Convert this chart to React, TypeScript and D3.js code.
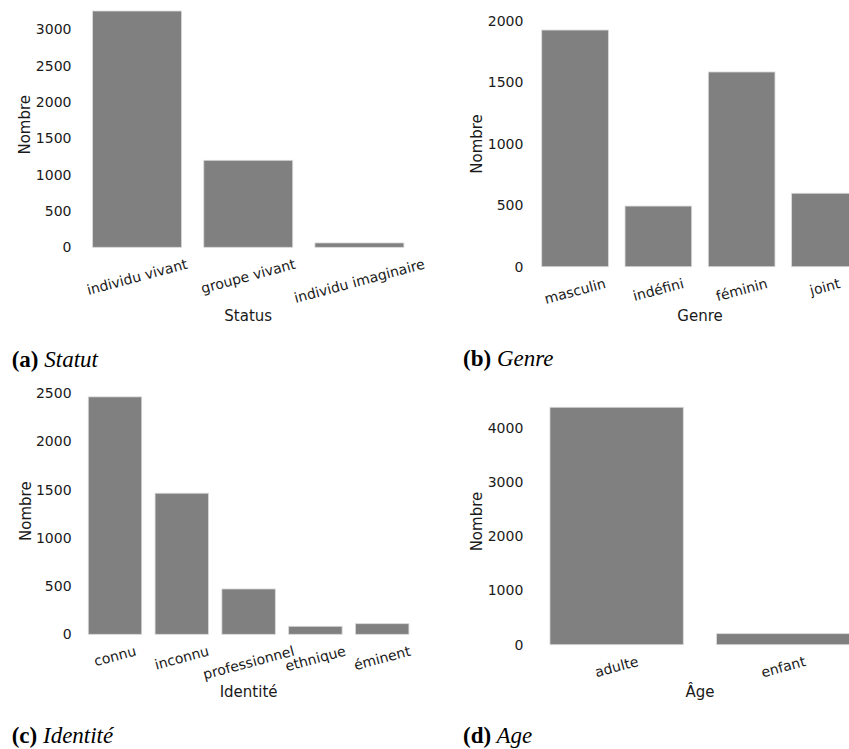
import React, { useEffect, useRef } from "react";
import * as d3 from "d3";

// ---- Data ----
const statusCategories = ["individu vivant", "groupe vivant", "individu imaginaire"];
const statusValues = [3254, 1198, 60];
const statusTicks = [0, 500, 1000, 1500, 2000, 2500, 3000];

const genreCategories = ["masculin", "indéfini", "féminin", "joint"];
const genreValues = [1924, 493, 1583, 597];
const genreTicks = [0, 500, 1000, 1500, 2000];

const identiteCategories = ["connu", "inconnu", "professionnel", "ethnique", "éminent"];
const identiteValues = [2462, 1463, 470, 83, 110];
const identiteTicks = [0, 500, 1000, 1500, 2000, 2500];

const ageCategories = ["adulte", "enfant"];
const ageValues = [4376, 203];
const ageTicks = [0, 1000, 2000, 3000, 4000];

// ---- Layout (positions/styles) ----
const panels = [
  { cats: statusCategories, vals: statusValues, ticks: statusTicks, xLabel: "Status", letter: "(a)", caption: " Statut",
    x0: 81.5, x1: 415, top: -0.8, bottom: 247.3, xLabelY: 320.5, capX: 11.7, capY: 366.5 },
  { cats: genreCategories, vals: genreValues, ticks: genreTicks, xLabel: "Genre", letter: "(b)", caption: " Genre",
    x0: 533.4, x1: 866.6, top: 18.2, bottom: 266.7, xLabelY: 320.5, capX: 463, capY: 366 },
  { cats: identiteCategories, vals: identiteValues, ticks: identiteTicks, xLabel: "Identité", letter: "(c)", caption: " Identité",
    x0: 81.6, x1: 415.6, top: 385, bottom: 634.3, xLabelY: 697, capX: 11.7, capY: 743.3 },
  { cats: ageCategories, vals: ageValues, ticks: ageTicks, xLabel: "Âge", letter: "(d)", caption: " Age",
    x0: 533.3, x1: 866.6, top: 395.4, bottom: 644.7, xLabelY: 697, capX: 463, capY: 743 },
];

const SANS = "DejaVu Sans, sans-serif";
const SERIF = "Liberation Serif, Times New Roman, serif";
const TICK_FS = 14;
const LABEL_FS = 15;
const ROT = 15;

export default function App() {
  const ref = useRef<SVGSVGElement | null>(null);

  useEffect(() => {
    const svg = d3.select(ref.current);
    svg.selectAll("*").remove();
    svg.append("rect").attr("width", 849).attr("height", 749).attr("fill", "#fff");

    panels.forEach((p) => {
      const g = svg.append("g");
      const x = d3.scaleBand<string>().domain(p.cats).range([p.x0, p.x1]).paddingInner(0.2).paddingOuter(0.1);
      const yMax = (d3.max(p.vals) as number) * 1.05;
      const y = d3.scaleLinear().domain([0, yMax]).range([p.bottom, p.top]);

      // bars
      g.selectAll("rect.bar")
        .data(p.cats.map((c, i) => ({ c, v: p.vals[i] })))
        .enter()
        .append("rect")
        .attr("class", "bar")
        .attr("x", (d) => x(d.c) as number)
        .attr("width", x.bandwidth())
        .attr("y", (d) => y(d.v))
        .attr("height", (d) => y(0) - y(d.v))
        .attr("fill", "#808080")
        .attr("stroke", "#d9d9d9")
        .attr("stroke-width", 0.8);

      // y ticks
      g.selectAll("text.yt")
        .data(p.ticks)
        .enter()
        .append("text")
        .attr("class", "yt")
        .attr("x", p.x0 - 10)
        .attr("y", (d) => y(d))
        .attr("dy", "0.36em")
        .attr("text-anchor", "end")
        .attr("font-family", SANS)
        .attr("font-size", TICK_FS)
        .attr("fill", "#1a1a1a")
        .text((d) => String(d));

      // x tick labels, rotated
      const rad = (ROT * Math.PI) / 180;
      p.cats.forEach((c) => {
        const t = g
          .append("text")
          .attr("text-anchor", "middle")
          .attr("font-family", SANS)
          .attr("font-size", TICK_FS)
          .attr("fill", "#1a1a1a")
          .attr("dy", "0.346em")
          .text(c);
        const node = t.node() as SVGTextElement;
        const w = node.getComputedTextLength();
        const H = w * Math.sin(rad) + 1.164 * TICK_FS * Math.cos(rad);
        const cx = (x(c) as number) + x.bandwidth() / 2;
        const cy = p.bottom + 8.4 + H / 2;
        t.attr("transform", `translate(${cx},${cy}) rotate(${-ROT})`);
      });

      // x label
      g.append("text")
        .attr("x", (p.x0 + p.x1) / 2)
        .attr("y", p.xLabelY)
        .attr("text-anchor", "middle")
        .attr("font-family", SANS)
        .attr("font-size", LABEL_FS)
        .attr("fill", "#1a1a1a")
        .text(p.xLabel);

      // y label
      const cyl = (p.top + p.bottom) / 2 + 1.5;
      g.append("text")
        .attr("transform", `translate(${p.x0 - 56.5},${cyl}) rotate(-90)`)
        .attr("dy", "0.36em")
        .attr("text-anchor", "middle")
        .attr("font-family", SANS)
        .attr("font-size", LABEL_FS)
        .attr("fill", "#1a1a1a")
        .text("Nombre");

      // caption
      const cap = g
        .append("text")
        .attr("x", p.capX)
        .attr("y", p.capY)
        .attr("font-family", SERIF)
        .attr("font-size", 23)
        .attr("fill", "#000");
      cap.append("tspan").attr("font-weight", "bold").text(p.letter);
      cap.append("tspan").attr("font-style", "italic").text(p.caption);
    });
  }, []);

  return (
    <svg
      ref={ref}
      width={849}
      height={749}
      style={{ position: "absolute", left: 0, top: 0, display: "block" }}
    />
  );
}
